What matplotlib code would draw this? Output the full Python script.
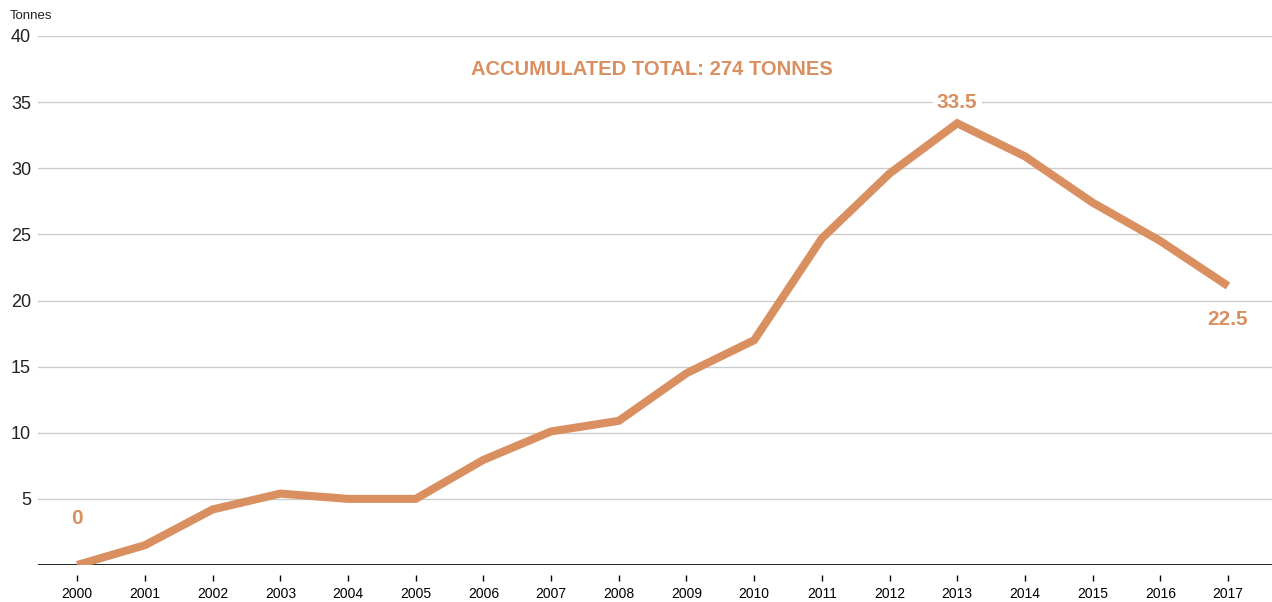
import matplotlib.pyplot as plt

years = list(range(2000, 2018))
tonnes = [0, 1.5, 4.2, 5.4, 5.0, 5.0, 7.95, 10.1, 10.9, 14.5, 17.0,
          24.7, 29.6, 33.4, 30.9, 27.4, 24.5, 21.1]
yticks = [5, 10, 15, 20, 25, 30, 35, 40]
title = "ACCUMULATED TOTAL: 274 TONNES"
orange = "#d98f5f"

plt.rcParams['font.family'] = ['Liberation Sans', 'DejaVu Sans']

fig = plt.figure(figsize=(12.72, 6.02), dpi=100)
ax = fig.add_axes([38/1272, 1 - 565/602, 1 - 38/1272, (565 - 36)/602])

ax.plot(years, tonnes, color=orange, lw=5.8, solid_joinstyle='miter',
        solid_capstyle='butt', zorder=3)

ax.set_xlim(1999.42, 2017.65)
ax.set_ylim(0, 40)
ax.set_yticks(yticks)
ax.set_xticks(years)
ax.set_xticklabels([str(y) for y in years], fontsize=12, color='#222222')
ax.set_yticklabels([str(v) for v in yticks], fontsize=13, color='#222222')
ax.grid(axis='y', color='#cccccc', lw=1)
ax.axhline(0, color='black', lw=1.2, zorder=2)
for s in ['left', 'right', 'top']:
    ax.spines[s].set_visible(False)
ax.spines['bottom'].set_position(('outward', 7))
ax.spines['bottom'].set_visible(False)
ax.tick_params(axis='x', length=4.5, width=1, color='black', pad=4)
ax.tick_params(axis='y', length=0, pad=5)

# labels
ax.text(years[0], 3.5, "0", color=orange, fontsize=15,
        fontweight='bold', ha='center', va='center')
ax.text(years[13], 35.0, "33.5", color=orange, fontsize=15, fontweight='bold',
        ha='center', va='center',
        bbox=dict(facecolor='white', edgecolor='none', pad=3), zorder=4)
ax.text(years[-1], 18.6, "22.5", color=orange, fontsize=15,
        fontweight='bold', ha='center', va='center')
ax.text(2008.49, 37.5, title, color=orange, fontsize=14.5, fontweight='bold',
        ha='center', va='center')

fig.text(10/1272, 1 - 16/602, "Tonnes", fontsize=9.5, color='#222222',
         ha='left', va='center')

fig.savefig("out.png", dpi=100)
